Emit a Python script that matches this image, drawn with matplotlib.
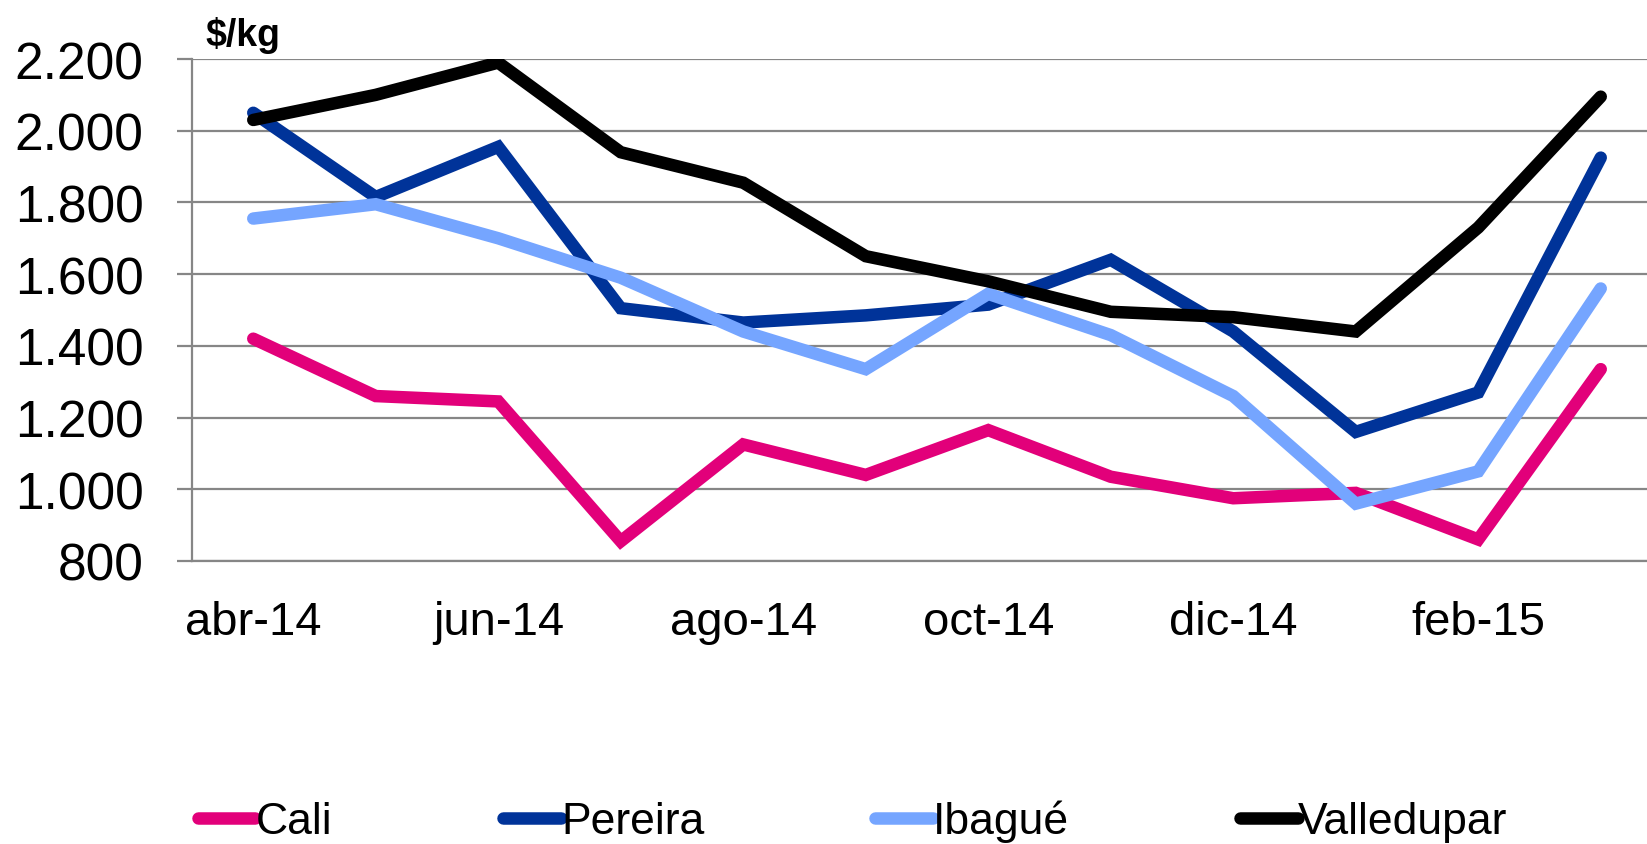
import matplotlib.pyplot as plt
import numpy as np

plt.rcParams['font.family'] = ['Liberation Sans', 'DejaVu Sans']

months = ['abr-14', 'may-14', 'jun-14', 'jul-14', 'ago-14', 'sep-14',
          'oct-14', 'nov-14', 'dic-14', 'ene-15', 'feb-15', 'mar-15']
cali = [1420, 1260, 1245, 855, 1125, 1040, 1165, 1035, 975, 990, 860, 1335]
pereira = [2050, 1815, 1955, 1505, 1465, 1485, 1515, 1640, 1440, 1160, 1270, 1925]
ibague = [1755, 1795, 1700, 1590, 1440, 1335, 1545, 1430, 1260, 960, 1050, 1560]
valledupar = [2030, 2100, 2190, 1940, 1855, 1650, 1580, 1495, 1480, 1440, 1730, 2095]

series = [('Cali', cali, '#E2007A'),
          ('Pereira', pereira, '#003399'),
          ('Ibagué', ibague, '#75A5FF'),
          ('Valledupar', valledupar, '#000000')]

fig = plt.figure(figsize=(16.47, 8.45), dpi=100)
ax = fig.add_axes([192 / 1647, 1 - 562 / 845, 1470 / 1647, (562 - 60) / 845])

x = np.arange(len(months))
for name, vals, col in series:
    ax.plot(x, vals, color=col, linewidth=9, label=name,
            solid_capstyle='round', solid_joinstyle='miter')

ax.set_xlim(-0.5, len(months) - 0.5)
ax.set_ylim(800, 2200)
ax.set_yticks(range(800, 2201, 200))
ax.set_yticklabels([f'{v:,}'.replace(',', '.') for v in range(800, 2201, 200)])
ax.set_xticks(x[::2])
ax.set_xticklabels(months[::2])

ax.grid(axis='y', color='#868686', linewidth=1.6)
ax.set_axisbelow(True)
for s in ['top', 'right']:
    ax.spines[s].set_visible(False)
for s in ['left', 'bottom']:
    ax.spines[s].set_color('#868686')
    ax.spines[s].set_linewidth(1.6)
ax.tick_params(axis='y', length=11, width=1.6, color='#868686', labelsize=37, pad=24)
ax.tick_params(axis='x', length=0, labelsize=34, pad=28)

fig.text(205 / 1647, 1 - 35 / 845, '$/kg', fontsize=27, fontweight='bold', va='center')

fig.legend(loc='center', bbox_to_anchor=(0.5 + 29 / 1647, 1 - 822 / 845), ncol=4, frameon=False,
           fontsize=32, handlelength=1.3, handletextpad=0.0, columnspacing=3.85)

fig.savefig('out.png', dpi=100)
